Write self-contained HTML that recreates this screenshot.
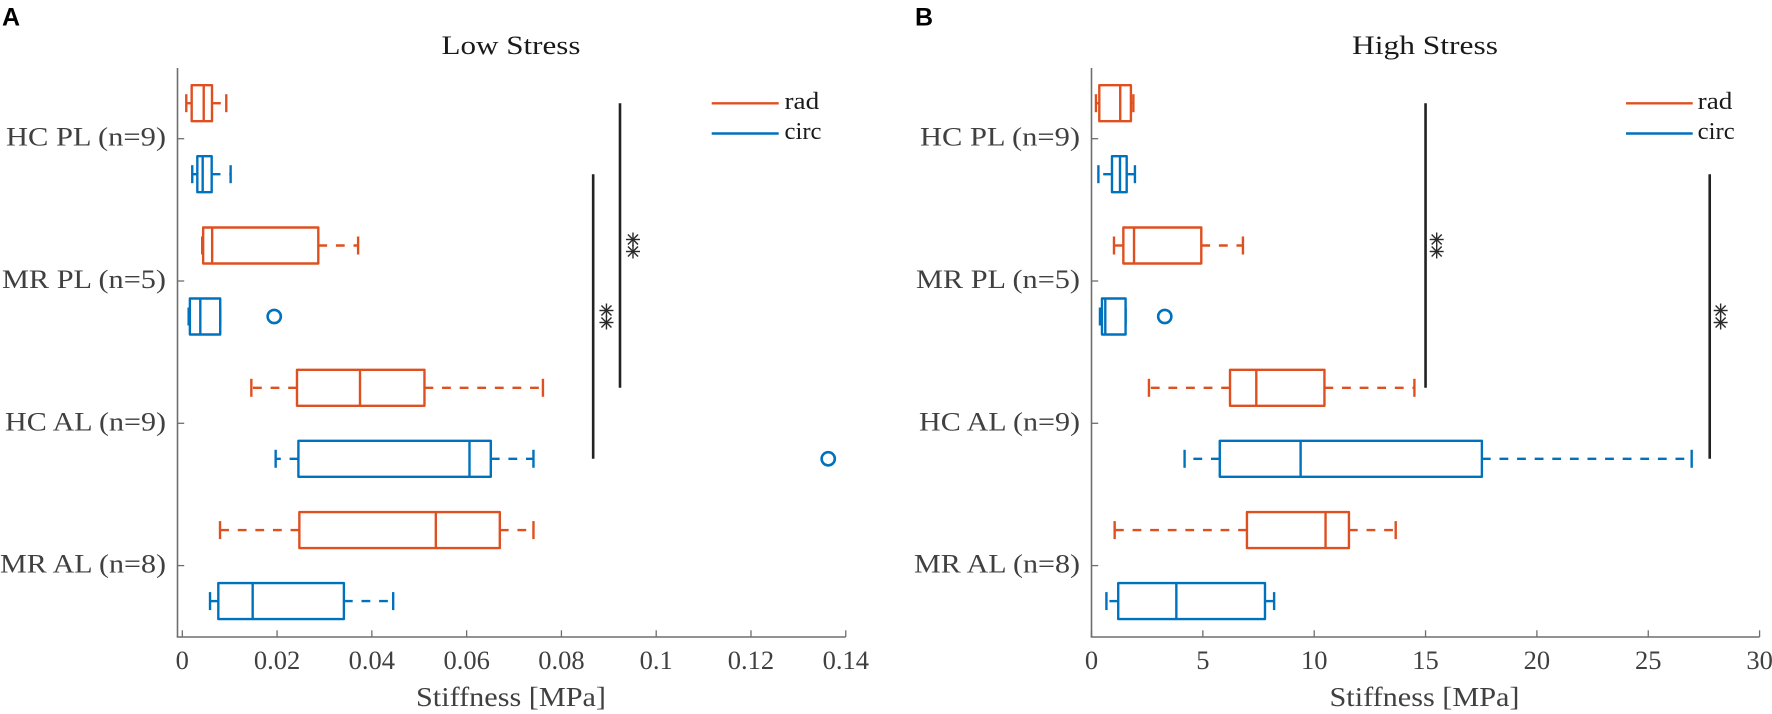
<!DOCTYPE html>
<html lang="en">
<head>
<meta charset="utf-8">
<title>Stiffness at Low and High Stress</title>
<style>
html,body{margin:0;padding:0;background:#fff;width:1772px;height:714px;overflow:hidden}
svg{display:block}
text{font-family:"Liberation Serif",serif;fill:#404040}
.panel-letter{font-family:"Liberation Sans",sans-serif;font-weight:700;font-size:25px;fill:#000}
.title{font-size:26px;fill:#1a1a1a;text-anchor:middle}
.legend-text{font-size:24px;fill:#1a1a1a}
</style>
</head>
<body>
<svg id="figure" xmlns="http://www.w3.org/2000/svg" width="1772" height="714" viewBox="0 0 1772 714">
  <text class="panel-letter" x="2" y="25.5">A</text>
  <text class="panel-letter" x="915" y="25.5">B</text>
  <text class="title" x="511" y="54" textLength="139" lengthAdjust="spacingAndGlyphs">Low Stress</text>
  <text class="title" x="1425" y="54" textLength="146" lengthAdjust="spacingAndGlyphs">High Stress</text>
  <g id="panel-low"></g>
  <g id="panel-high"></g>
  <g>
    <line x1="711.7" x2="778.7" y1="103.3" y2="103.3" stroke="#df5020" stroke-width="2.4"/>
    <text class="legend-text" x="784.5" y="109" textLength="34.7" lengthAdjust="spacingAndGlyphs">rad</text>
    <line x1="711.7" x2="778.7" y1="133.5" y2="133.5" stroke="#0072bd" stroke-width="2.4"/>
    <text class="legend-text" x="784.5" y="139" textLength="37" lengthAdjust="spacingAndGlyphs">circ</text>
  </g>
  <g>
    <line x1="1626" x2="1692.7" y1="103.3" y2="103.3" stroke="#df5020" stroke-width="2.4"/>
    <text class="legend-text" x="1697.7" y="109" textLength="34.7" lengthAdjust="spacingAndGlyphs">rad</text>
    <line x1="1626" x2="1692.7" y1="133.5" y2="133.5" stroke="#0072bd" stroke-width="2.4"/>
    <text class="legend-text" x="1697.7" y="139" textLength="37" lengthAdjust="spacingAndGlyphs">circ</text>
  </g>
</svg>
<script>
// Data: each stats row is [lower whisker, Q1, median, Q3, upper whisker]
const categories = ['HC PL (n=9)', 'MR PL (n=5)', 'HC AL (n=9)', 'MR AL (n=8)'];

const lowTicks = [0, 0.02, 0.04, 0.06, 0.08, 0.1, 0.12, 0.14];
const lowTickLabels = ['0', '0.02', '0.04', '0.06', '0.08', '0.1', '0.12', '0.14'];
const highTicks = [0, 5, 10, 15, 20, 25, 30];
const highTickLabels = ['0', '5', '10', '15', '20', '25', '30'];

const lowRad = [
  [0.00084, 0.00198, 0.00452, 0.00627, 0.00928],
  [0.0042, 0.0044, 0.0063, 0.0287, 0.0371],
  [0.01457, 0.0242, 0.0375, 0.0511, 0.0761],
  [0.00796, 0.0247, 0.0535, 0.0670, 0.0741]
];
const lowCirc = [
  [0.0021, 0.00317, 0.0043, 0.0062, 0.0102],
  [0.00134, 0.0016, 0.0038, 0.0080, 0.0080],
  [0.0197, 0.0245, 0.0606, 0.0651, 0.0741],
  [0.00585, 0.0076, 0.01485, 0.0341, 0.0445]
];
const lowCircOutliers = [null, 0.0194, 0.1363, null];

const highRad = [
  [0.2, 0.35, 1.29, 1.77, 1.88],
  [1.01, 1.43, 1.91, 4.93, 6.8],
  [2.58, 6.22, 7.4, 10.46, 14.5],
  [1.04, 6.98, 10.51, 11.56, 13.66]
];
const highCirc = [
  [0.31, 0.92, 1.28, 1.58, 1.95],
  [0.38, 0.47, 0.62, 1.53, 1.53],
  [4.18, 5.76, 9.39, 17.53, 26.95],
  [0.67, 1.2, 3.81, 7.79, 8.2]
];
const highCircOutliers = [null, 3.29, null, null];

// Significance brackets: x value and the series they connect (HC PL to HC AL)
const lowSigValues = [0.09236, 0.0867];
const lowSigStarValues = [0.0951, 0.0895];
const highSigValues = [15.0, 27.76];
const highSigStarValues = [15.5, 28.25];

// Axis functions
const yTop = 68, yBottom = 637;
const rowOffset = 35.5, boxHalf = 18, capHalf = 9;
function rowY(i) { return 138.7 + 142.3 * i; }
function lowX(v) { return 182.3 + 4739 * v; }
function highX(v) { return 1091.5 + 22.27 * v; }

const NS = 'http://www.w3.org/2000/svg';
const RAD = '#df5020', CIRC = '#0072bd', AXIS = '#6e6e6e', INK = '#404040';
const LABEL_WIDTHS = [160, 164, 161, 166];
const MARK_W = 2.4;

function mk(parent, tag, attrs) {
  const el = document.createElementNS(NS, tag);
  for (const k in attrs) el.setAttribute(k, attrs[k]);
  parent.appendChild(el);
  return el;
}
function slug(s) { return s.split(' (')[0].toLowerCase().replace(/ /g, '-'); }

function drawBox(g, stats, y, x, color, outlier, name) {
  const box = mk(g, 'g', {});
  
  
  const dash = { stroke: color, 'stroke-width': MARK_W, fill: 'none', 'stroke-dasharray': '8.8 8.8' };
  const low = mk(box, 'line', Object.assign({ x1: x(stats[1]), x2: x(stats[0]), y1: y, y2: y }, dash));
  
  
  const high = mk(box, 'line', Object.assign({ x1: x(stats[3]), x2: x(stats[4]), y1: y, y2: y }, dash));
  
  
  const capStyle = { stroke: color, 'stroke-width': MARK_W };
  const capLow = mk(box, 'line', Object.assign({ x1: x(stats[0]), x2: x(stats[0]), y1: y - capHalf, y2: y + capHalf }, capStyle));
  
  
  const capHigh = mk(box, 'line', Object.assign({ x1: x(stats[4]), x2: x(stats[4]), y1: y - capHalf, y2: y + capHalf }, capStyle));
  
  
  const rect = mk(box, 'rect', {
    x: x(stats[1]), y: y - boxHalf, width: x(stats[3]) - x(stats[1]), height: boxHalf * 2,
    fill: '#fff', stroke: color, 'stroke-width': MARK_W, 'stroke-linejoin': 'round'
  });
  
  
  const med = mk(box, 'line', { x1: x(stats[2]), x2: x(stats[2]), y1: y - boxHalf, y2: y + boxHalf, stroke: color, 'stroke-width': MARK_W });
  
  
  if (outlier !== null && outlier !== undefined) {
    const c = mk(box, 'circle', { cx: x(outlier), cy: y, r: 6.6, fill: 'none', stroke: color, 'stroke-width': 2.6 });
    
    
  }
}

function drawStar(g, cx, cy) {
  const r = 7, d = r * 0.72;
  const segs = [[-r, 0, r, 0], [0, -r, 0, r], [-d, -d, d, d], [-d, d, d, -d]];
  segs.forEach(function (s) {
    mk(g, 'line', { x1: cx + s[0], y1: cy + s[1], x2: cx + s[2], y2: cy + s[3], stroke: '#2a2a2a', 'stroke-width': 1.4 });
  });
}

function drawPanel(id, x, ticks, tickLabels, rad, circ, outliers, sig, sigStars, labelCenter) {
  const g = document.getElementById(id);
  const x0 = x === lowX ? 177.5 : 1091.5;
  const x1 = x(ticks[ticks.length - 1]);

  // axes
  const yAxis = mk(g, 'line', { x1: x0, x2: x0, y1: yTop, y2: yBottom, stroke: AXIS, 'stroke-width': 1.6 });
  
  
  const xAxis = mk(g, 'line', { x1: x0 - 0.8, x2: x1, y1: yBottom, y2: yBottom, stroke: AXIS, 'stroke-width': 1.6 });
  
  

  // x ticks
  ticks.forEach(function (t, i) {
    const tick = mk(g, 'line', { x1: x(t), x2: x(t), y1: yBottom, y2: yBottom - 6.7, stroke: AXIS, 'stroke-width': 1.3 });
    
    
    const lab = mk(g, 'text', { x: x(t), y: 669, 'text-anchor': 'middle', 'font-size': 26.5 });
    lab.textContent = tickLabels[i];
    
    
  });

  // y ticks and labels
  categories.forEach(function (c, i) {
    const tick = mk(g, 'line', { x1: x0, x2: x0 + 6.7, y1: rowY(i), y2: rowY(i), stroke: AXIS, 'stroke-width': 1.3 });
    
    
    const lab = mk(g, 'text', {
      x: x0 - 11.5, y: rowY(i) + 7, 'text-anchor': 'end', 'font-size': 26.5,
      textLength: LABEL_WIDTHS[i], lengthAdjust: 'spacingAndGlyphs'
    });
    lab.textContent = c;
    
    
  });

  // x axis title
  const xt = mk(g, 'text', {
    x: labelCenter, y: 706, 'text-anchor': 'middle', 'font-size': 27,
    textLength: 190, lengthAdjust: 'spacingAndGlyphs'
  });
  xt.textContent = 'Stiffness [MPa]';
  
  

  // boxes
  categories.forEach(function (c, i) {
    drawBox(g, rad[i], rowY(i) - rowOffset, x, RAD, null, slug(c) + '-rad');
    drawBox(g, circ[i], rowY(i) + rowOffset, x, CIRC, outliers[i], slug(c) + '-circ');
  });

  // significance brackets: first connects rad series, second the circ series (HC PL to HC AL)
  sig.forEach(function (v, i) {
    const off = i === 0 ? -rowOffset : rowOffset;
    const bar = mk(g, 'line', { x1: x(v), x2: x(v), y1: rowY(0) + off, y2: rowY(2) + off, stroke: '#222', 'stroke-width': 2.6 });
    
    
    const stars = mk(g, 'g', {});
    
    
    const mid = (rowY(0) + rowY(2)) / 2 + off;
    drawStar(stars, x(sigStars[i]), mid - 6);
    drawStar(stars, x(sigStars[i]), mid + 6);
  });
}

drawPanel('panel-low', lowX, lowTicks, lowTickLabels, lowRad, lowCirc, lowCircOutliers, lowSigValues, lowSigStarValues, 511);
drawPanel('panel-high', highX, highTicks, highTickLabels, highRad, highCirc, highCircOutliers, highSigValues, highSigStarValues, 1424.5);
</script>
</body>
</html>
